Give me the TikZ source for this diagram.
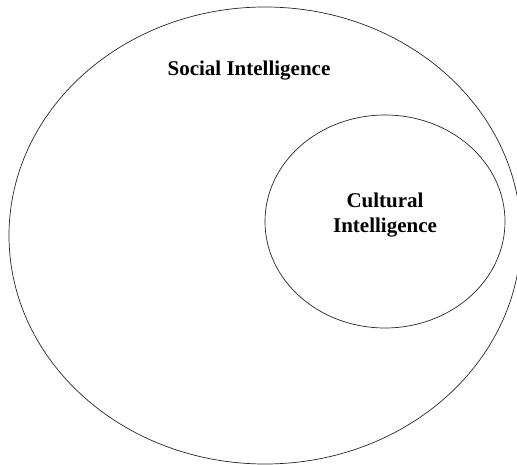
\documentclass[tikz,border=0pt]{standalone}
\usepackage{fontspec}
\setmainfont{Liberation Serif}
\usetikzlibrary{shapes.geometric}
\begin{document}
\begin{tikzpicture}[x=1pt,y=-1pt,
  setring/.style={draw=black!85, line width=0.7pt, ellipse, inner sep=0pt},
  label/.style={font=\bfseries\fontsize{21}{25}\selectfont, align=center}]
  \useasboundingbox (0,0) rectangle (517,465);
  \clip (0,0) rectangle (517,465);
  % outer set: social intelligence
  \node[setring, minimum width=512pt, minimum height=457pt] (social) at (265,235.5) {};
  % inner set: cultural intelligence
  \node[setring, minimum width=240pt, minimum height=213pt] (cultural) at (385,221.5) {};
  \node[label] (socialtext) at (249,71) {Social Intelligence};
  \node[label] (culturaltext) at (385,215) {Cultural\\Intelligence};
\end{tikzpicture}
\end{document}
